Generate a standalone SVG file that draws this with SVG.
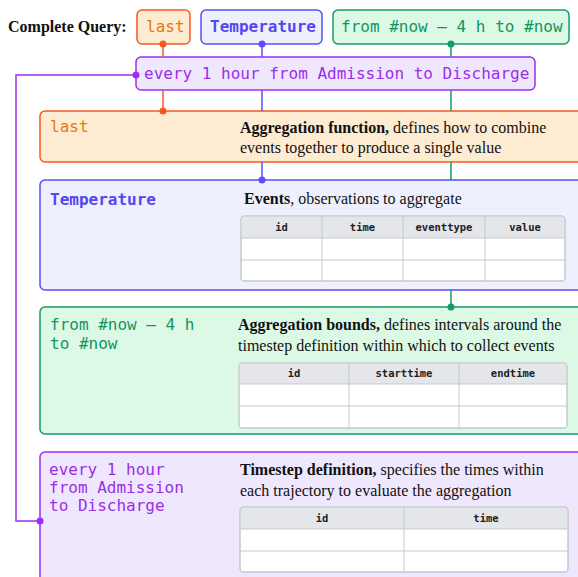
<svg xmlns="http://www.w3.org/2000/svg" width="578" height="577" viewBox="0 0 578 577">
<style>
.mono{font-family:"DejaVu Sans Mono","Liberation Mono",monospace;font-size:16px}
.serif{font-family:"Liberation Serif","Times New Roman",serif;font-size:16px;fill:#111}
.b{font-weight:bold}
.th{font-family:"DejaVu Sans Mono","Liberation Mono",monospace;font-size:10.5px;font-weight:bold;fill:#222;text-anchor:middle}
.tab{fill:#fff;stroke:#c4c8cf;stroke-width:1}
.thd{fill:#e4e6ea}
.grid{stroke:#c4c8cf;stroke-width:1;fill:none}
.o{fill:#fdebd2;stroke:#f45a1e;stroke-width:1.5}
.bl{fill:#eef1fd;stroke:#5b4ef5;stroke-width:1.5}
.g{fill:#dcf9e6;stroke:#17996a;stroke-width:1.5}
.p{fill:#efe7fd;stroke:#9a2ff0;stroke-width:1.5}
.to{fill:#e8790f}.tb{fill:#5546f2}.tg{fill:#129461}.tp{fill:#9a2fe6}
.co{stroke:#f45a1e}.cb{stroke:#5b4ef5}.cg{stroke:#17996a}.cp{stroke:#9a2ff0}
.ln{fill:none;stroke-width:1.5}
</style>
<rect width="578" height="577" fill="#fff"/>
<text x="8" y="32" class="serif b">Complete Query:</text>
<g id="q-last"><rect x="137" y="10" width="53" height="34" rx="5" class="o"/><text x="146" y="32" class="mono to">last</text></g>
<g id="q-temp"><rect x="201" y="10" width="121" height="34" rx="5" class="bl"/><text x="210" y="32" class="mono b tb">Temperature</text></g>
<g id="q-bounds"><rect x="333" y="10" width="236" height="34" rx="5" class="g"/><text x="341" y="32" class="mono tg">from #now – 4 h to #now</text></g>
<g id="q-timestep"><rect x="136" y="57" width="399" height="33" rx="5" class="p"/><text x="144" y="79" class="mono tp">every 1 hour from Admission to Discharge</text></g>

<g id="panel-agg"><rect x="40" y="111" width="560" height="51" rx="5" class="o"/>
<text x="50" y="132" class="mono to">last</text>
<text x="240" y="133" class="serif"><tspan class="b">Aggregation function,</tspan> defines how to combine</text>
<text x="240" y="153" class="serif">events together to produce a single value</text></g>

<g id="panel-events"><rect x="40" y="180" width="560" height="110" rx="5" class="bl"/>
<text x="50" y="205" class="mono b tb">Temperature</text>
<text x="244" y="204" class="serif"><tspan class="b">Events</tspan>, observations to aggregate</text>
<rect x="241" y="216" width="324" height="65" rx="3" class="tab"/>
<path d="M241.5,238 V219 a3,3 0 0 1 3,-3 H562 a3,3 0 0 1 3,3 V238 Z" class="thd"/>
<path d="M241,238H565M241,260H565M322,216V281M403,216V281M485,216V281" class="grid"/>
<rect x="241" y="216" width="324" height="65" rx="3" class="grid"/>
<text x="281.5" y="231" class="th">id</text><text x="362.5" y="231" class="th">time</text><text x="444" y="231" class="th">eventtype</text><text x="525" y="231" class="th">value</text></g>

<g id="panel-bounds"><rect x="40" y="307" width="560" height="127" rx="5" class="g"/>
<text x="50" y="330" class="mono tg">from #now – 4 h</text>
<text x="50" y="349" class="mono tg">to #now</text>
<text x="238" y="330" class="serif"><tspan class="b">Aggregation bounds,</tspan> defines intervals around the</text>
<text x="238" y="351" class="serif">timestep definition within which to collect events</text>
<rect x="239" y="363" width="328" height="65" rx="3" class="tab"/>
<path d="M239.5,384 V366 a3,3 0 0 1 3,-3 H564 a3,3 0 0 1 3,3 V384 Z" class="thd"/>
<path d="M239,384H567M239,406H567M349,363V428M459,363V428" class="grid"/>
<rect x="239" y="363" width="328" height="65" rx="3" class="grid"/>
<text x="294" y="377" class="th">id</text><text x="404" y="377" class="th">starttime</text><text x="513" y="377" class="th">endtime</text></g>

<g id="panel-timestep"><rect x="40" y="452" width="560" height="140" rx="5" class="p"/>
<text x="49" y="475" class="mono tp">every 1 hour</text>
<text x="49" y="493" class="mono tp">from Admission</text>
<text x="49" y="511" class="mono tp">to Discharge</text>
<text x="240" y="475" class="serif"><tspan class="b">Timestep definition,</tspan> specifies the times within</text>
<text x="240" y="496" class="serif">each trajectory to evaluate the aggregation</text>
<rect x="240" y="507" width="328" height="65" rx="3" class="tab"/>
<path d="M240.5,529 V510 a3,3 0 0 1 3,-3 H565 a3,3 0 0 1 3,3 V529 Z" class="thd"/>
<path d="M240,529H568M240,551H568M404,507V572" class="grid"/>
<rect x="240" y="507" width="328" height="65" rx="3" class="grid"/>
<text x="322" y="522" class="th">id</text><text x="486" y="522" class="th">time</text></g>

<g id="connectors">
<path d="M163,44V57M163,90V111" class="ln co"/>
<circle cx="163" cy="44" r="3.5" fill="#f45a1e"/><circle cx="163" cy="111" r="3.5" fill="#f45a1e"/>
<path d="M262,44V57M262,90V111M262,162V180" class="ln cb"/>
<circle cx="262" cy="44" r="3.5" fill="#5b4ef5"/><circle cx="262" cy="180" r="3.5" fill="#5b4ef5"/>
<path d="M451,44V57M451,90V111M451,162V180M451,290V307" class="ln cg"/>
<circle cx="451" cy="44" r="3.5" fill="#17996a"/><circle cx="451" cy="307" r="3.5" fill="#17996a"/>
<path d="M136,75H16V521H40" class="ln cp"/>
<circle cx="136" cy="75" r="3.5" fill="#9a2ff0"/><circle cx="40" cy="521" r="3.5" fill="#9a2ff0"/>
</g>
</svg>
